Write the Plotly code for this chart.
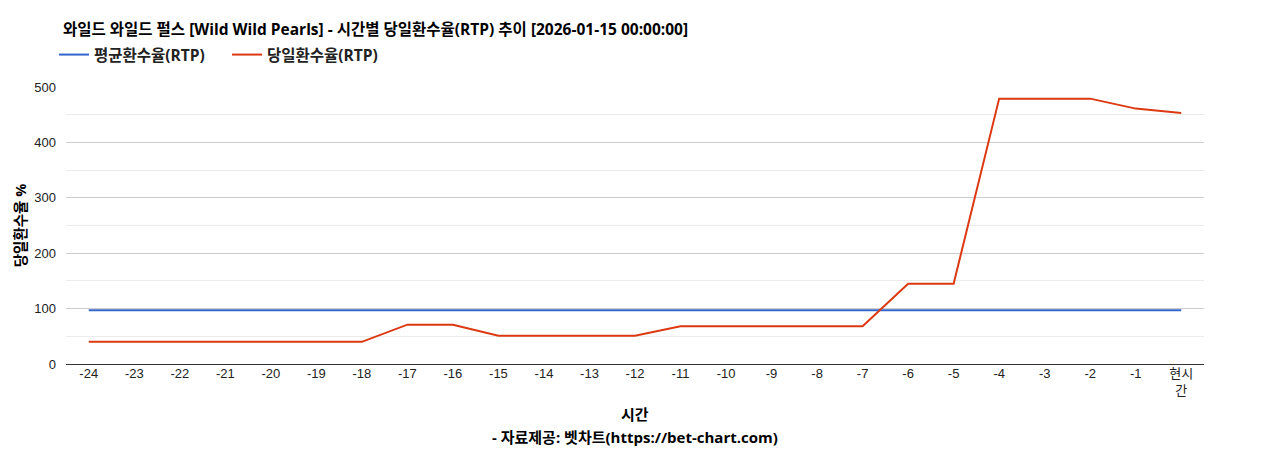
import plotly.graph_objects as go

hours = ["-24", "-23", "-22", "-21", "-20", "-19", "-18", "-17", "-16", "-15", "-14", "-13",
         "-12", "-11", "-10", "-9", "-8", "-7", "-6", "-5", "-4", "-3", "-2", "-1", "현시<br>간"]
avg_rtp = [97] * 25
day_rtp = [40, 40, 40, 40, 40, 40, 40, 71, 71, 51, 51, 51,
           51, 68, 68, 68, 68, 68, 145, 145, 479, 479, 479, 461, 453]

tick_font = "Liberation Sans, Arial, Noto Sans CJK KR, sans-serif"
kr_font = "Open Sans, Noto Sans CJK KR, sans-serif"

# page has an 8px body margin, so the figure is offset by 8px
W, H = 1252, 442
L, R, T, B = 55, 56, 79, 86
ph = H - T - B

fig = go.Figure()
fig.add_trace(go.Scatter(x=hours, y=avg_rtp, mode="lines", name="<b>평균환수율(RTP)</b>",
                         line=dict(color="#3366cc", width=2)))
fig.add_trace(go.Scatter(x=hours, y=day_rtp, mode="lines", name="<b>당일환수율(RTP)</b>",
                         line=dict(color="#dc3912", width=2)))

fig.update_layout(
    width=W, height=H,
    paper_bgcolor="white", plot_bgcolor="white",
    margin=dict(l=L, r=R, t=T, b=B),
    font=dict(family=tick_font, size=13, color="#222222"),
    title=dict(text="<b>와일드 와일드 펄스 [Wild Wild Pearls] - 시간별 당일환수율(RTP) 추이 [2026-01-15 00:00:00]</b>",
               x=L / W, xanchor="left", xref="container",
               y=1 - 22 / H, yanchor="middle", yref="container",
               font=dict(family=kr_font, size=15.5, color="#000000")),
    legend=dict(orientation="h", x=-12 / (W - L - R), xanchor="left", y=1 + 32 / ph, yanchor="middle",
                font=dict(family=kr_font, size=15.5, color="#222222"), itemwidth=30,
                entrywidth=128, traceorder="normal"),
    showlegend=True,
    hovermode="x",
)
fig.update_xaxes(type="category", range=[-0.5, 24.5], showgrid=False, showline=False, ticks="",
                 tickfont=dict(size=13, color="#222222"), zeroline=False)
fig.update_yaxes(range=[0, 500], dtick=100, showgrid=True, gridcolor="#cccccc", gridwidth=1,
                 zeroline=True, zerolinecolor="#333333", zerolinewidth=1,
                 minor=dict(dtick=50, showgrid=True, gridcolor="#ebebeb", gridwidth=1),
                 tickfont=dict(size=13, color="#222222"), ticklabelstandoff=9,
                 title=dict(text="<b>당일환수율 %</b>", font=dict(family=kr_font, size=14.5, color="#000000"),
                            standoff=4))

fig.add_annotation(text="<b>시간</b>", xref="paper", yref="paper", x=0.5, y=-50 / ph,
                   xanchor="center", yanchor="middle", showarrow=False,
                   font=dict(family=kr_font, size=15, color="#000000"))
fig.add_annotation(text="<b>- 자료제공: 벳차트(https://bet-chart.com)</b>", xref="paper", yref="paper",
                   x=0.5, y=-73 / ph, xanchor="center", yanchor="middle", showarrow=False,
                   font=dict(family=kr_font, size=15, color="#000000"))

fig.write_html("out.html")
